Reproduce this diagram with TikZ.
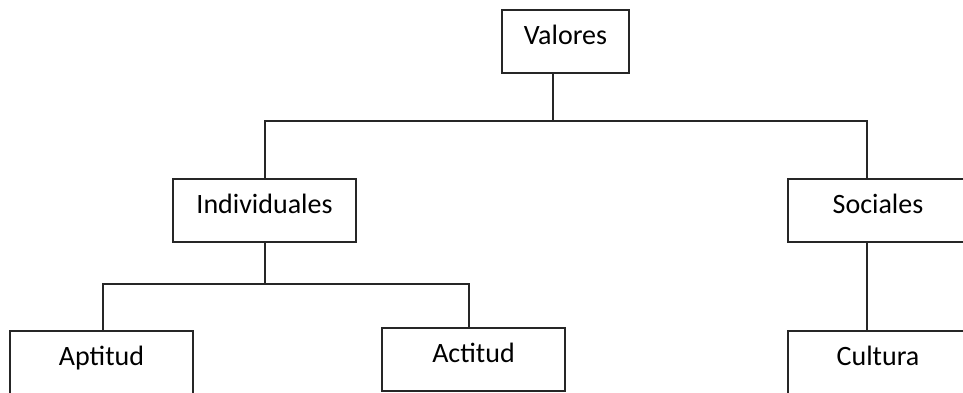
\documentclass[tikz,border=0pt]{standalone}
\usepackage{fontspec}
\setmainfont{Carlito}
\usetikzlibrary{positioning}

\tikzset{
  caja/.style={draw=black!85, line width=1.6pt, fill=white, inner sep=0pt,
    minimum height=63pt, text height=20pt, text depth=15pt,
    font=\fontsize{28}{33}\selectfont},
  enlace/.style={draw=black!85, line width=1.6pt}
}

\begin{document}
\begin{tikzpicture}[x=1pt, y=-1pt]
	%%%%% margins %%%%%
	\useasboundingbox (0,0) rectangle (963,392);
	\clip (0,0) rectangle (963,392);
	
	%%%%% boxes %%%%%
	\node[caja, minimum width=127pt] (val) at (565.5,41.5) {Valores};
	\node[caja, minimum width=183pt] (ind) at (264.5,210.5) {Individuales};
	\node[caja, minimum width=180pt] (soc) at (878,210.5) {Sociales};
	\node[caja, minimum width=183pt] (apt) at (101.5,362.5) {Aptitud};
	\node[caja, minimum width=183pt] (act) at (473.5,359.5) {Actitud};
	\node[caja, minimum width=180pt] (cul) at (878,362.5) {Cultura};
	
	%%%%% junctions %%%%%
	\coordinate (b1) at (553,121);
	\coordinate (b1l) at (265,121);
	\coordinate (b1r) at (867,121);
	\coordinate (b2) at (265,284);
	\coordinate (b2l) at (103,284);
	\coordinate (b2r) at (469,284);
	
	%%%%% connectors %%%%%
	\draw[enlace] (val.south -| b1) -- (b1);
	\draw[enlace] (ind.north -| b1l) |- (b1r) -- (soc.north -| b1r);
	\draw[enlace] (soc.south -| b1r) -- (cul.north -| b1r);
	\draw[enlace] (ind.south -| b2) -- (b2);
	\draw[enlace] (apt.north -| b2l) |- (b2r) -- (act.north -| b2r);
\end{tikzpicture}
\end{document}
